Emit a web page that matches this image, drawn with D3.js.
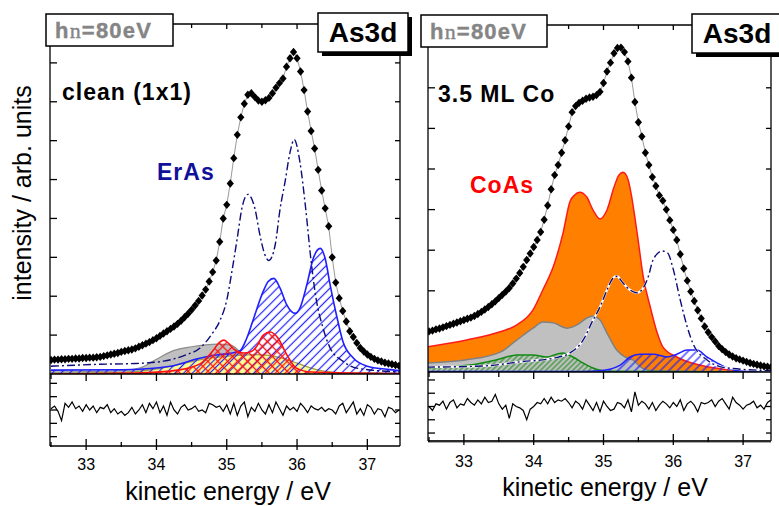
<!DOCTYPE html>
<html><head><meta charset="utf-8">
<script src="https://cdn.jsdelivr.net/npm/d3@7"></script>
<style>
html,body{margin:0;padding:0;background:#fff;}
svg{display:block;font-family:"Liberation Sans",Arial,sans-serif;}
</style></head><body>
<svg id="chart" width="779" height="506"></svg>
<script>
// ---------- DATA ----------
const energy = [
32.50,32.55,32.60,32.65,32.70,32.75,32.80,32.85,32.90,32.95,
33.00,33.05,33.10,33.15,33.20,33.25,33.30,33.35,33.40,33.45,
33.50,33.55,33.60,33.65,33.70,33.75,33.80,33.85,33.90,33.95,
34.00,34.05,34.10,34.15,34.20,34.25,34.30,34.35,34.40,34.45,
34.50,34.55,34.60,34.65,34.70,34.75,34.80,34.85,34.90,34.95,
35.00,35.05,35.10,35.15,35.20,35.25,35.30,35.35,35.40,35.45,
35.50,35.55,35.60,35.65,35.70,35.75,35.80,35.85,35.90,35.95,
36.00,36.05,36.10,36.15,36.20,36.25,36.30,36.35,36.40,36.45,
36.50,36.55,36.60,36.65,36.70,36.75,36.80,36.85,36.90,36.95,
37.00,37.05,37.10,37.15,37.20,37.25,37.30,37.35,37.40,37.45];

const dataClean = [
0.36,0.37,0.37,0.38,0.38,0.39,0.39,0.40,0.40,0.41,
0.41,0.42,0.42,0.43,0.44,0.46,0.48,0.50,0.52,0.54,
0.57,0.59,0.61,0.63,0.66,0.70,0.74,0.78,0.82,0.87,
0.92,0.98,1.04,1.10,1.16,1.22,1.29,1.37,1.46,1.55,
1.65,1.76,1.88,2.02,2.17,2.38,2.62,2.92,3.40,4.00,
4.35,4.90,5.55,6.15,6.60,6.95,7.18,7.22,7.12,7.03,
7.00,7.04,7.10,7.22,7.36,7.48,7.60,7.90,8.12,8.28,
8.12,7.78,7.30,6.75,6.25,5.80,5.25,4.72,4.26,3.80,
3.00,2.35,1.95,1.62,1.35,1.10,0.95,0.80,0.67,0.58,
0.50,0.44,0.39,0.35,0.32,0.29,0.27,0.25,0.23,0.21];

const dataCo = [
1.00,1.02,1.05,1.07,1.10,1.13,1.16,1.19,1.22,1.25,
1.28,1.31,1.34,1.38,1.43,1.48,1.54,1.60,1.67,1.74,
1.82,1.90,1.98,2.07,2.18,2.30,2.44,2.59,2.76,2.92,
3.08,3.25,3.45,3.75,4.10,4.50,4.85,5.10,5.40,5.71,
6.05,6.40,6.55,6.63,6.68,6.73,6.76,6.78,6.82,6.90,
7.12,7.40,7.62,7.85,7.98,7.99,7.88,7.65,7.25,6.65,
6.15,5.80,5.40,5.10,4.80,4.58,4.35,4.22,4.00,3.74,
3.50,3.25,2.90,2.55,2.25,1.98,1.75,1.52,1.32,1.12,
0.98,0.86,0.75,0.64,0.56,0.49,0.43,0.38,0.34,0.31,
0.28,0.25,0.22,0.20,0.18,0.16,0.14,0.13,0.12,0.11];

const residClean = [
0.1,0.3,-0.1,-0.8,0.5,0.2,0.6,0.1,0.3,-0.1,
0.4,0.0,0.3,-0.2,0.2,0.1,0.4,-0.2,0.1,-0.3,
-0.1,-0.4,-0.2,0.2,-0.3,0.0,0.4,-0.2,0.5,0.1,
0.6,-0.2,0.3,-0.4,0.6,0.0,-0.3,0.2,0.4,0.0,
0.1,0.3,-0.1,0.0,-0.2,0.5,0.4,0.2,0.3,-0.1,
0.4,-0.3,0.5,-0.4,0.3,0.6,-0.5,0.2,-0.1,0.5,
0.0,-0.3,0.4,-0.2,0.6,0.1,-0.4,0.3,0.0,0.2,
-0.1,0.5,0.2,-0.2,0.3,0.1,0.0,0.2,-0.1,0.1,
0.0,-0.3,0.3,0.5,-0.2,0.2,0.6,-0.3,0.1,-0.4,
0.4,0.2,-0.3,0.1,0.0,-0.5,0.2,0.1,-0.2,0.0];

const residCo = [
0.0,-0.3,0.2,0.1,0.4,-0.2,0.3,0.5,-0.1,0.2,
0.1,0.6,0.3,0.1,0.5,0.2,0.7,0.3,0.4,0.9,
0.2,-0.2,0.1,-0.9,0.2,0.0,-0.1,-0.3,-1.0,-0.2,
0.0,0.3,0.2,0.6,0.2,0.7,0.3,0.5,0.4,0.6,
0.3,-0.1,0.4,0.2,-0.2,0.5,0.1,-0.3,0.3,-0.4,
0.4,0.0,-0.3,-0.2,0.3,0.2,-0.1,0.5,-0.4,1.1,
0.1,0.4,0.2,-0.2,0.3,-0.3,0.1,0.4,0.2,-0.1,
0.3,0.0,0.5,-0.3,0.2,0.4,0.1,-0.4,0.3,0.2,
0.3,0.5,0.0,0.4,0.6,0.2,-0.2,0.7,0.3,0.1,
-0.2,0.1,0.2,0.4,-0.1,0.1,-0.2,0.3,0.5,0.2];

// fit components, clean (1x1)
const erAsE = [32.5,33.5,34.2,34.6,34.9,35.05,35.19,35.28,35.37,35.52,35.59,35.67,35.76,35.85,35.97,36.04,36.14,36.23,36.33,36.40,36.47,36.57,36.65,36.80,37.0,37.28,37.5];
const erAsI = [0.10,0.11,0.20,0.40,0.50,0.53,0.60,0.90,1.36,2.13,2.38,2.46,2.20,1.79,1.56,1.69,2.30,2.97,3.23,2.97,2.30,1.44,0.85,0.41,0.20,0.12,0.08];
const dashCleanE = [32.5,33.2,33.7,34.1,34.4,34.62,34.79,34.9,35.0,35.07,35.15,35.22,35.30,35.40,35.47,35.54,35.60,35.69,35.76,35.83,35.90,35.96,36.04,36.12,36.20,36.27,36.37,36.47,36.65,36.85,37.5];
const dashCleanI = [0.20,0.25,0.27,0.33,0.48,0.67,1.03,1.36,1.90,2.60,3.50,4.30,4.62,4.26,3.59,3.08,2.92,3.33,4.26,4.95,5.70,6.03,5.46,4.30,2.90,1.95,1.18,0.67,0.33,0.15,0.05];
const grayCleanE = [32.5,33.4,33.77,34.0,34.24,34.5,34.86,35.05,35.2,35.35,35.5,35.7,36.0,37.5];
const grayCleanI = [0.05,0.08,0.16,0.38,0.60,0.70,0.77,0.75,0.55,0.30,0.13,0.05,0.03,0.02];
const yellowE = [32.5,33.5,33.9,34.2,34.5,34.8,35.1,35.4,35.6,35.8,36.0,36.2,36.4,36.8,37.5];
const yellowI = [0.02,0.04,0.10,0.20,0.32,0.42,0.47,0.50,0.48,0.40,0.28,0.15,0.07,0.02,0.01];
const redE = [32.5,33.8,34.3,34.62,34.8,34.9,34.96,35.03,35.1,35.23,35.35,35.43,35.52,35.62,35.73,35.85,35.99,36.2,37.5];
const redI = [0.00,0.03,0.10,0.26,0.59,0.82,0.87,0.78,0.64,0.54,0.58,0.72,1.00,1.08,0.92,0.51,0.15,0.05,0.01];

// fit components, 3.5 ML Co
const coAsE = [32.47,33.04,33.52,33.76,33.99,34.13,34.28,34.42,34.52,34.58,34.66,34.76,34.85,34.95,35.05,35.15,35.22,35.28,35.35,35.40,35.45,35.50,35.57,35.67,35.77,35.85,36.05,36.38,36.86,37.45];
const coAsI = [0.62,0.79,0.99,1.16,1.53,2.02,2.59,3.42,4.20,4.35,4.43,4.31,3.99,3.77,3.99,4.55,4.85,4.92,4.75,4.35,3.80,3.20,2.34,1.60,0.96,0.62,0.37,0.17,0.05,0.02];
const grayCoE = [32.47,33.04,33.52,33.76,33.99,34.13,34.28,34.48,34.62,34.76,34.85,34.95,35.05,35.19,35.34,35.42,35.55,35.7,37.45];
const grayCoI = [0.22,0.30,0.49,0.79,1.08,1.23,1.21,1.08,1.16,1.33,1.38,1.28,0.96,0.54,0.34,0.30,0.10,0.03,0.00];
const greenE = [32.47,33.09,33.47,33.76,33.99,34.19,34.33,34.42,34.56,34.71,34.85,35.05,37.45];
const greenI = [0.10,0.17,0.30,0.42,0.42,0.37,0.44,0.47,0.37,0.22,0.10,0.02,0.00];
const blueCoE = [32.47,34.70,34.95,35.24,35.38,35.52,35.71,35.91,36.05,36.20,36.34,36.48,36.63,36.77,36.96,37.45];
const blueCoI = [0.01,0.01,0.03,0.17,0.37,0.44,0.44,0.37,0.44,0.54,0.54,0.37,0.22,0.10,0.03,0.01];
const dashCoE = [32.47,33.3,33.8,34.28,34.52,34.71,34.85,34.95,35.05,35.14,35.19,35.28,35.38,35.48,35.57,35.64,35.71,35.84,35.92,35.99,36.10,36.20,36.28,36.48,36.77,37.45];
const dashCoI = [0.12,0.15,0.25,0.34,0.47,0.79,1.28,1.60,2.02,2.32,2.36,2.19,2.02,1.95,2.07,2.34,2.76,2.98,2.93,2.59,1.77,1.11,0.71,0.30,0.10,0.03];

const xTickLabels = [33,34,35,36,37];
const xMinorTicks = [32.5,33.5,34.5,35.5,36.5,37.5];
const yTicksClean = [1,2,3,4,5,6,7,8];
const yTicksCo = [1,2,3,4,5,6,7];
const residTicks = [-2,-1,0,1,2];

// ---------- DRAW ----------
const svg = d3.select("#chart");
const defs = svg.append("defs");

function hatch(id, color, spacing, width, angle, cross) {
  const p = defs.append("pattern").attr("id", id)
    .attr("patternUnits", "userSpaceOnUse")
    .attr("width", spacing).attr("height", spacing)
    .attr("patternTransform", `rotate(${angle})`);
  p.append("line").attr("x1", spacing/2).attr("y1", -1).attr("x2", spacing/2).attr("y2", spacing+1)
    .attr("stroke", color).attr("stroke-width", width);
  if (cross) p.append("line").attr("x1", -1).attr("y1", spacing/2).attr("x2", spacing+1).attr("y2", spacing/2)
    .attr("stroke", color).attr("stroke-width", width);
}
hatch("hBlue", "#1f1fff", 6.2, 1.2, 45, false);
hatch("hBlue2", "#1f1fff", 6.0, 1.2, 45, false);
hatch("hGreen", "#118a11", 3.8, 1.0, 45, false);
hatch("hRed", "#ff1010", 7.0, 1.3, 45, true);

function makePanel(cfg) {
  const g = svg.append("g");
  const x = d3.scaleLinear().domain([32.5, 37.5]).range(cfg.xr);
  const y = d3.scaleLinear().domain([0, cfg.ymax]).range([cfg.ySep, cfg.yTop]);
  const yr = d3.scaleLinear().domain(cfg.rdom).range([cfg.yBot, cfg.ySep]);
  const cid = "clip" + cfg.id, rid = "rclip" + cfg.id;
  defs.append("clipPath").attr("id", cid).append("rect")
    .attr("x", cfg.x0).attr("y", cfg.yTop).attr("width", cfg.x1 - cfg.x0).attr("height", cfg.ySep - cfg.yTop);
  defs.append("clipPath").attr("id", rid).append("rect")
    .attr("x", cfg.x0).attr("y", cfg.ySep).attr("width", cfg.x1 - cfg.x0).attr("height", cfg.yBot - cfg.ySep);
  const plot = g.append("g").attr("clip-path", `url(#${cid})`);
  return {g, x, y, yr, plot, cid, rid, cfg};
}

function comp(P, E, I, fill, stroke, sw) {
  const pts = E.map((e, i) => [e, I[i]]);
  const area = d3.area().x(d => P.x(d[0])).y0(P.y(0)).y1(d => P.y(d[1])).curve(d3.curveMonotoneX);
  const line = d3.line().x(d => P.x(d[0])).y(d => P.y(d[1])).curve(d3.curveMonotoneX);
  if (fill) P.plot.append("path").attr("d", area(pts)).attr("fill", fill).attr("stroke", "none");
  P.plot.append("path").attr("d", line(pts)).attr("fill", "none").attr("stroke", stroke).attr("stroke-width", sw);
}

function dashLine(P, E, I, underlay) {
  const pts = E.map((e, i) => [e, I[i]]);
  const line = d3.line().x(d => P.x(d[0])).y(d => P.y(d[1])).curve(d3.curveMonotoneX);
  if (underlay) P.plot.append("path").attr("d", line(pts)).attr("fill", "none").attr("stroke", "#fff").attr("stroke-width", 2.2);
  P.plot.append("path").attr("d", line(pts)).attr("fill", "none").attr("stroke", "#0c0c7a")
    .attr("stroke-width", 1.4).attr("stroke-dasharray", "8,3,2,3");
}

function dataPoints(P, vals) {
  const pts = energy.map((e, i) => [e, vals[i]]);
  P.plot.append("path").attr("d", d3.line().x(d => P.x(d[0])).y(d => P.y(d[1]))(pts))
    .attr("fill", "none").attr("stroke", "#999").attr("stroke-width", 1);
  P.plot.selectAll("path.dm").data(pts).join("path").attr("class", "dm")
    .attr("d", "M0,-4.2L3.6,0L0,4.2L-3.6,0Z")
    .attr("transform", d => `translate(${P.x(d[0])},${P.y(d[1])})`)
    .attr("fill", "#000");
}

function residual(P, vals) {
  const pts = energy.map((e, i) => [e, vals[i]]);
  P.g.append("g").attr("clip-path", `url(#${P.rid})`).append("path")
    .attr("d", d3.line().x(d => P.x(d[0])).y(d => P.yr(d[1]))(pts))
    .attr("fill", "none").attr("stroke", "#000").attr("stroke-width", 1.2);
}

function frame(P, yTicks, bottomColor) {
  const c = P.cfg, g = P.g;
  const L = (x1, y1, x2, y2, w, col) => g.append("line").attr("x1", x1).attr("y1", y1).attr("x2", x2).attr("y2", y2)
    .attr("stroke", col || "#000").attr("stroke-width", w || 1.3);
  L(c.x0, c.yTop, c.x1, c.yTop);
  L(c.x0, c.yTop, c.x0, c.yBot);
  L(c.x1, c.yTop, c.x1, c.yBot);
  L(c.x0, c.ySep, c.x1, c.ySep);
  if (bottomColor) { L(c.x0, c.yBot + 0.5, c.x1, c.yBot + 0.5, 3, bottomColor); }
  L(c.x0, c.yBot, c.x1, c.yBot, 1.3);
  yTicks.forEach(t => { const yy = P.y(t); L(c.x0, yy, c.x0 + 7, yy); L(c.x1 - 5, yy, c.x1, yy); });
  residTicks.forEach(t => { const yy = P.yr(t); L(c.x0, yy, c.x0 + 7, yy); L(c.x1 - 5, yy, c.x1, yy); });
  const all = xTickLabels.map(v => [v, true]).concat(xMinorTicks.map(v => [v, false]));
  all.forEach(([v, major]) => {
    const xx = P.x(v);
    if (xx < c.x0 + 1 || xx > c.x1 - 1) return;
    L(xx, c.yTop, xx, c.yTop + (major ? 5 : 4));
    L(xx, c.ySep, xx, c.ySep + (major ? 7 : 5));
    L(xx, c.yBot - (major ? 7 : 4), xx, c.yBot + (major ? 4 : 1));
  });
  g.selectAll("text.tl").data(xTickLabels).join("text").attr("class", "tl")
    .attr("x", d => P.x(d)).attr("y", c.labY).attr("text-anchor", "middle")
    .attr("font-size", 16).attr("fill", "#000").text(d => d);
  g.append("text").attr("x", c.titleX).attr("y", c.titleY).attr("text-anchor", "middle")
    .attr("font-size", 25).attr("fill", "#000").text("kinetic energy / eV");
}

function boxes(c) {
  const g = svg.append("g");
  g.append("rect").attr("x", c.hvX).attr("y", c.hvY).attr("width", c.hvW).attr("height", 32)
    .attr("fill", "#fff").attr("stroke", "#000").attr("stroke-width", 1.5);
  const t = g.append("text").attr("x", c.hvX + 9).attr("y", c.hvY + 24).attr("font-size", 22)
    .attr("font-weight", "bold").attr("fill", "#858585").attr("stroke", "#858585").attr("stroke-width", 0.4)
    .attr("letter-spacing", 1.2);
  t.append("tspan").text("h");
  t.append("tspan").attr("font-family", "'Liberation Serif','Times New Roman',serif").attr("font-weight", "normal").attr("font-size", 22).text("n");
  t.append("tspan").text("=80eV");
  g.append("rect").attr("x", c.asX + 4).attr("y", c.asY + 4).attr("width", c.asW).attr("height", 39).attr("fill", "#000");
  g.append("rect").attr("x", c.asX).attr("y", c.asY).attr("width", c.asW).attr("height", 39)
    .attr("fill", "#fff").attr("stroke", "#000").attr("stroke-width", 1.5);
  g.append("text").attr("x", c.asX + 45).attr("y", c.asY + 29).attr("text-anchor", "middle")
    .attr("font-size", 28).attr("font-weight", "bold").attr("fill", "#000").text("As3d");
}

// LEFT PANEL
const cL = {id: "L", xr: [51, 402.5], x0: 50, x1: 400, yTop: 24, ySep: 374, yBot: 446, ymax: 9.0,
  rdom: [-2.7, 2.7], labY: 470, titleX: 228, titleY: 500};
const PL = makePanel(cL);
comp(PL, grayCleanE, grayCleanI, "#c0c0c0", "#8c8c8c", 1.2);
comp(PL, yellowE, yellowI, "#fdfd96", "#a0a040", 1.2);
comp(PL, erAsE, erAsI, "url(#hBlue)", "#1f1fff", 1.6);
comp(PL, redE, redI, "url(#hRed)", "#ff1010", 1.6);
dashLine(PL, dashCleanE, dashCleanI, false);
dataPoints(PL, dataClean);
residual(PL, residClean);
frame(PL, yTicksClean, null);

// RIGHT PANEL
const cR = {id: "R", xr: [429, 778], x0: 428, x1: 771, yTop: 25, ySep: 372, yBot: 441, ymax: 8.547,
  rdom: [-2.6, 2.6], labY: 467, titleX: 605, titleY: 496};
const PR = makePanel(cR);
comp(PR, coAsE, coAsI, "#ff8000", "#ff1a1a", 1.5);
comp(PR, grayCoE, grayCoI, "#c0c0c0", "#808080", 1.5);
comp(PR, greenE, greenI, "url(#hGreen)", "#118a11", 1.5);
comp(PR, blueCoE, blueCoI, "url(#hBlue2)", "#1f1fff", 1.5);
dashLine(PR, dashCoE, dashCoI, true);
dataPoints(PR, dataCo);
residual(PR, residCo);
frame(PR, yTicksCo, "#aaa");

svg.append("text").attr("transform", "translate(31,193) rotate(-90)").attr("text-anchor", "middle")
  .attr("font-size", 25).attr("fill", "#000").text("intensity / arb. units");

svg.append("text").attr("x", 62).attr("y", 100).attr("font-size", 23).attr("font-weight", "bold")
  .attr("letter-spacing", 1).attr("fill", "#000").text("clean (1x1)");
svg.append("text").attr("x", 157).attr("y", 180).attr("font-size", 23).attr("font-weight", "bold")
  .attr("letter-spacing", 1).attr("fill", "#10109a").text("ErAs");
svg.append("text").attr("x", 438).attr("y", 102).attr("font-size", 23).attr("font-weight", "bold")
  .attr("letter-spacing", 1).attr("fill", "#000").text("3.5 ML Co");
svg.append("text").attr("x", 470).attr("y", 193).attr("font-size", 23).attr("font-weight", "bold")
  .attr("letter-spacing", 1).attr("fill", "#ff0000").text("CoAs");

boxes({hvX: 46, hvY: 14, hvW: 127, asX: 318, asY: 13, asW: 90});
boxes({hvX: 421, hvY: 15, hvW: 126, asX: 692, asY: 14, asW: 88});
</script>
</body></html>
